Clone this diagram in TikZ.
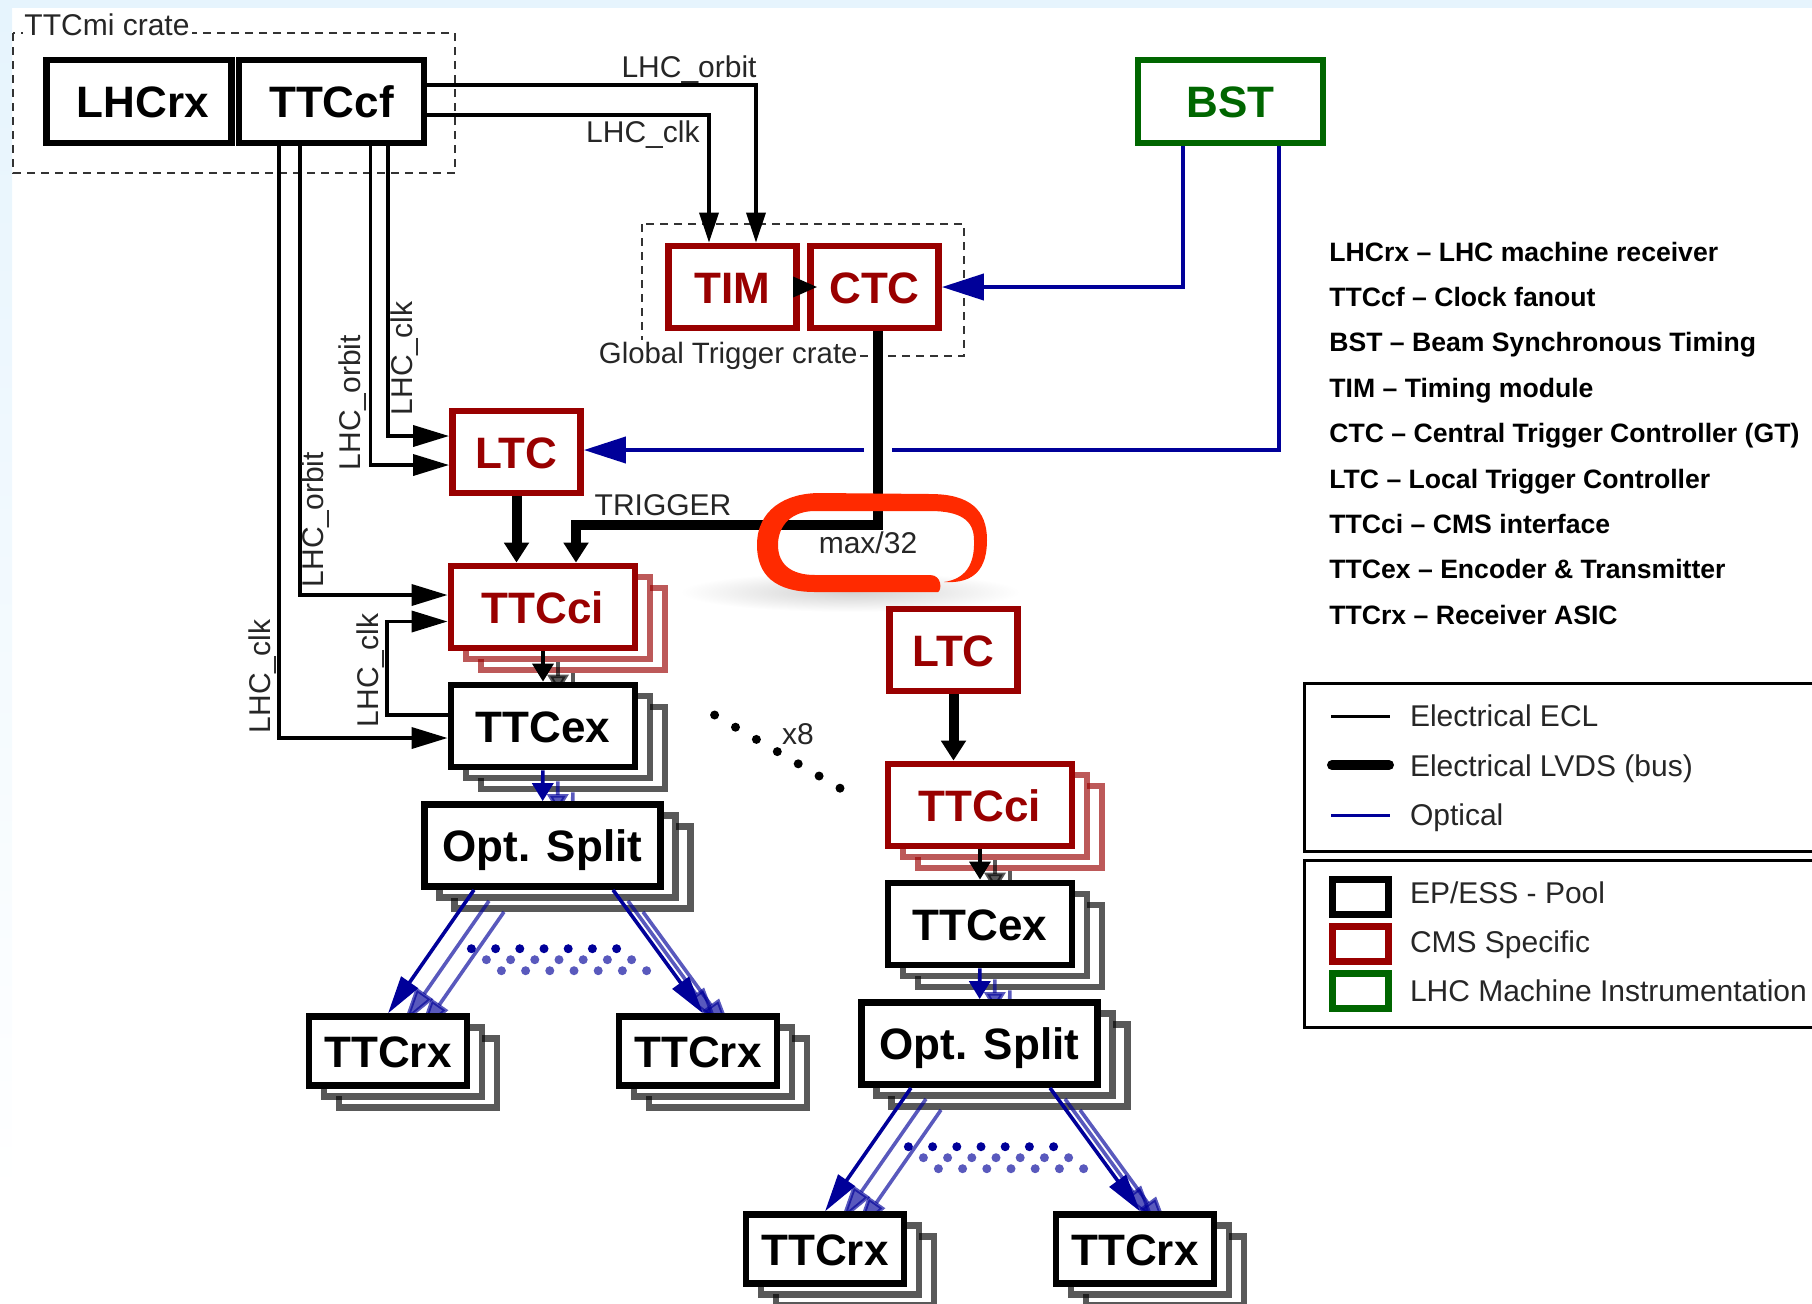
\documentclass[tikz,border=0pt]{standalone}
\usepackage{fontspec}
\setmainfont{Liberation Sans}
\usetikzlibrary{arrows.meta}
\definecolor{cred}{HTML}{990000}
\definecolor{cgrn}{HTML}{006600}
\definecolor{cblu}{HTML}{000099}
\definecolor{coval}{HTML}{FF2A00}
\definecolor{cbg}{HTML}{E6F4FD}
\tikzset{
  box/.style={draw, fill=white, line width=3.4pt, inner sep=0pt, text height=16pt, text depth=0pt, font=\fontsize{22}{26}\bfseries\selectfont},
  redn/.style={box, draw=cred, text=cred},
  grnn/.style={box, draw=cgrn, text=cgrn},
  szci/.style={minimum width=92pt, minimum height=41pt},
  szsp/.style={minimum width=118pt, minimum height=41pt},
  szrx/.style={minimum width=79pt, minimum height=34.2pt},
  szltc/.style={minimum width=64pt, minimum height=41pt},
  szcf/.style={minimum width=92.5pt, minimum height=41.5pt},
  ecl/.style={line width=1.8pt, -{Triangle[length=18pt,width=10.5pt]}},
  ecltop/.style={line width=1.8pt, -{Triangle[length=15pt,width=9.5pt]}},
  lvds/.style={line width=5pt, -{Triangle[length=10pt,width=12pt]}},
  optic/.style={line width=2pt, draw=cblu, -{Triangle[length=21pt,width=13pt]}, cblu},
  opticbare/.style={line width=2pt, draw=cblu},
  fan/.style={line width=1.8pt, draw=cblu, -{Triangle[length=19pt,width=10pt]}, cblu},
  shortecl/.style={line width=1.8pt, -{Triangle[length=9pt,width=10.5pt]}},
  shortopt/.style={line width=1.8pt, draw=cblu, -{Triangle[length=9pt,width=10.5pt]}, cblu},
  crateln/.style={line width=0.9pt, dash pattern=on 4pt off 3pt, black!80},
  lbl/.style={font=\fontsize{15}{18}\selectfont, text=black!85, inner sep=0pt},
  key/.style={font=\fontsize{13.3}{16}\bfseries\selectfont, anchor=base west, inner sep=0pt},
  swatch/.style={box, line width=3.5pt, minimum width=28pt, minimum height=17.5pt, text height=0pt},
}
\begin{document}
\begin{tikzpicture}[x=0.5pt,y=-0.5pt]
\useasboundingbox (0,0) rectangle (1812,1303);
\clip (0,0) rectangle (1812,1303);
\fill[cbg] (0,0) rectangle (1812,8);
\shade[top color=cbg, bottom color=white] (0,8) rectangle (12,1200);
\def\bx#1{\ifnum\lay=1 #1\fi}
\def\stack#1#2#3{%
  \foreach \lay/\sx/\sy/\fade in {3/30/22/0.65, 2/15/11/0.65, 1/0/0/1} {
    \begin{scope}[shift={(#2+\sx,#3+\sy)}]
    \node[redn, szci, draw opacity=\fade] (#1ci\lay) at (543,607) {\bx{TTCci}};
    \node[box, szci, draw opacity=\fade] (#1ex\lay) at (543,726) {\bx{TTCex}};
    \node[box, szsp, draw opacity=\fade] (#1sp\lay) at (542.5,845.5) {\bx{Opt. Split}};
    \node[box, szrx, draw opacity=\fade] (#1rl\lay) at (388,1051) {\bx{TTCrx}};
    \node[box, szrx, draw opacity=\fade] (#1rr\lay) at (698,1051) {\bx{TTCrx}};
    \draw[shortecl, opacity=\fade] (#1ci\lay) -- (#1ex\lay);
    \draw[shortopt, opacity=\fade] (#1ex\lay) -- (#1sp\lay);
    \draw[fan, opacity=\fade] ([xshift=-34.25pt]#1sp\lay.south) -- (#1rl\lay.north);
    \draw[fan, opacity=\fade] ([xshift=35.25pt]#1sp\lay.south) -- ([xshift=2.5pt]#1rr\lay.north);
    \foreach \k in {0,...,6}
      \fill[cblu, opacity=\fade] ({471.4+\k*24.2},948.7) circle (2.25pt);
    \end{scope}
  }
}
% crates
\draw[crateln] (13,33) rectangle (455,173);
\draw[crateln] (642,224) rectangle (964,356);
\node[lbl, fill=white, inner sep=1pt] (micrate) at (107,25) {TTCmi crate};
\node[lbl, fill=white, inner sep=1pt, anchor=east, font=\fontsize{14.7}{18}\selectfont] (gtcrate) at (860,355.5) {Global Trigger crate};
% glow under the hand drawn mark
\shade[inner color=black!18, outer color=white] (850,592) ellipse [x radius=170, y radius=20];
% top row
\node[box, szcf] (lhcrx) at (139,101.5) {\hspace*{4pt}LHCrx};
\node[box, szcf] (ttccf) at (331.5,101.5) {TTCcf};
\node[grnn, szcf] (bst) at (1230.5,101.5) {BST};
\node[redn, szltc] (tim) at (732.5,287) {TIM};
\node[redn, szltc] (ctc) at (874.5,287) {CTC};
\node[redn, szltc] (altc) at (516.5,452) {LTC};
\node[redn, szltc] (bltc) at (953.5,650) {LTC};
% the two partitions
\stack{a}{0}{0}
\stack{b}{437}{198}
% clock and orbit
\draw[ecltop] ([yshift=8.25pt]ttccf.east) -| ([xshift=11.75pt]tim.north);
\draw[ecltop] ([yshift=-6.75pt]ttccf.east) -| ([xshift=-11.75pt]tim.north);
\draw[ecl] ([xshift=28.25pt]ttccf.south) |- ([yshift=8pt]altc.west);
\draw[ecl] ([xshift=19.5pt]ttccf.south) |- ([yshift=-6.5pt]altc.west);
\draw[ecl] ([xshift=-15.75pt]ttccf.south) |- ([yshift=6pt]aci1.west);
\draw[ecl] ([xshift=-26.25pt]ttccf.south) |- ([yshift=-6pt]aex1.west);
\draw[ecl] ([yshift=5.5pt]aex1.west) -- ++(-60.5,0) |- ([yshift=-7.25pt]aci1.west);
\draw[shortecl, -{Triangle[length=12pt,width=10pt]}, shorten >=-5pt] (tim) -- (ctc);
% optical from BST
\coordinate (gapr) at (892,450);
\coordinate (gapl) at (864,450);
\draw[optic] ([xshift=-23.75pt]bst.south) |- (ctc.east);
\draw[opticbare] ([xshift=24.25pt]bst.south) |- (gapr);
\draw[optic] (gapl) -- ([yshift=1pt]altc.east);
% trigger bus
\coordinate (trigturn) at (576,524.5);
\draw[lvds] ([xshift=1.75pt]ctc.south) |- (trigturn) -- ([xshift=16.5pt]aci1.north);
\draw[lvds] (altc.south) -- (altc.south |- aci1.north);
\draw[lvds] (bltc.south) -- (bltc.south |- bci1.north);
% hand drawn mark
\fill[coval] (938,592) -- (815,592) .. controls (775,592) and (757,575) .. (757,545)
  .. controls (757,510) and (785,493) .. (820,493) -- (930,494)
  .. controls (970,494) and (987,510) .. (987,540) .. controls (987,568) and (975,584) .. (944,582)
  .. controls (965,579) and (975,565) .. (974,540) .. controls (974,520) and (960,511) .. (930,511)
  -- (815,511) .. controls (792,511) and (778,525) .. (778,545) .. controls (778,565) and (792,575) .. (815,575)
  -- (930,575) .. controls (942,575) and (942,590) .. (938,592) -- cycle;
% labels
\node[lbl, anchor=east] (lblorbit) at (757,69.5) {LHC\_orbit};
\node[lbl, anchor=east] (lblclk) at (700,135) {LHC\_clk};
\node[lbl, rotate=90] (lblclka) at (404.5,358.5) {LHC\_clk};
\node[lbl, rotate=90] (lblorba) at (352.5,402.5) {LHC\_orbit};
\node[lbl, rotate=90] (lblorbb) at (315.5,519.5) {LHC\_orbit};
\node[lbl, rotate=90] (lblclkb) at (262.5,676.5) {LHC\_clk};
\node[lbl, rotate=90] (lblclkc) at (370.5,670.5) {LHC\_clk};
\node[lbl] (lbltrig) at (663,505) {TRIGGER};
\node[lbl] (lblmax) at (868,543) {max/32};
\node[lbl] (lblx) at (798,734) {x8};
\foreach \k in {0,...,6}
  \fill[black] ({714.6+\k*20.9},{715+\k*12.2}) circle (2.25pt);
% key to the names
\foreach \txt [count=\i] in {LHCrx – LHC machine receiver, TTCcf – Clock fanout, BST – Beam Synchronous Timing, TIM – Timing module, CTC – Central Trigger Controller (GT), LTC – Local Trigger Controller, TTCci – CMS interface, TTCex – Encoder \& Transmitter, TTCrx – Receiver ASIC}
  \node[key] (key\i) at (1329,{261+45.4*(\i-1)}) {\txt};
% legends
\draw[line width=1.5pt] (1304.4,683) rectangle (1830,851.7);
\draw[line width=1.5pt] (1304.4,860) rectangle (1830,1027);
\draw[line width=1.3pt] (1331,716.7) -- (1390,716.7);
\draw[line width=5pt, line cap=round] (1332,765) -- (1389,765);
\draw[line width=1.3pt, cblu] (1331,815.5) -- (1390,815.5);
\node[lbl, anchor=base west] (lgecl) at (1409.6,726) {Electrical ECL};
\node[lbl, anchor=base west] (lglvds) at (1409.6,776) {Electrical LVDS (bus)};
\node[lbl, anchor=base west] (lgopt) at (1409.6,825) {Optical};
\node[swatch] (swblk) at (1360,896.5) {};
\node[swatch, draw=cred] (swred) at (1360,943.5) {};
\node[swatch, draw=cgrn] (swgrn) at (1360,990.5) {};
\node[lbl, anchor=base west] (lgpool) at (1409.6,903.7) {EP/ESS - Pool};
\node[lbl, anchor=base west] (lgcms) at (1409.6,952.5) {CMS Specific};
\node[lbl, anchor=base west] (lglhc) at (1409.6,1001.5) {LHC Machine Instrumentation};
\end{tikzpicture}
\end{document}
